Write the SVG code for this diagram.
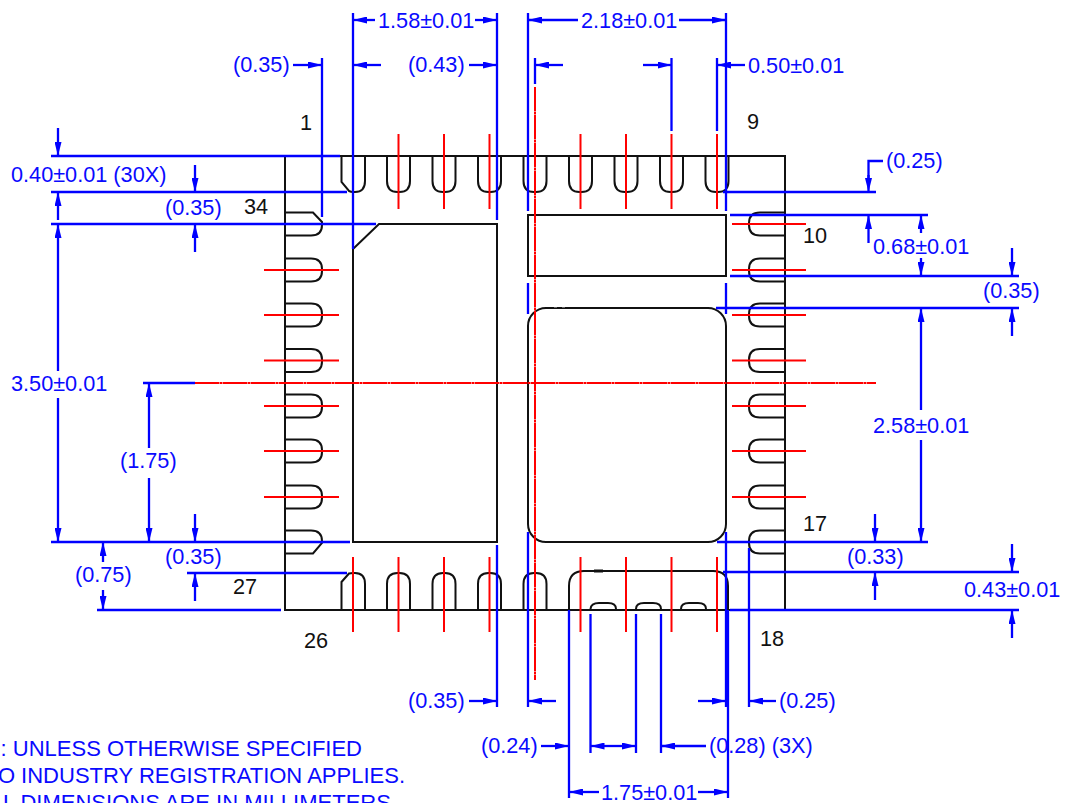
<svg xmlns="http://www.w3.org/2000/svg" xmlns:xlink="http://www.w3.org/1999/xlink" width="1068" height="803" viewBox="0 0 1068 803">
<style>
text{font-family:"Liberation Sans",Arial,sans-serif;font-size:21.7px}
.b{fill:#0a0aff}.k{fill:#111}
.o{fill:none;stroke:#111;stroke-width:2}
.l{fill:none;stroke:#0000ff;stroke-width:2.3}
.a{fill:none;stroke:#0000ff;stroke-width:2.3;marker-end:url(#ah)}
.r{fill:none;stroke:#ff0000;stroke-width:2}
.rd{fill:none;stroke:#ff0000;stroke-width:2;stroke-dasharray:24 .5 3 .5}
#notes text{font-size:22px}
</style>
<defs>
<marker id="ah" markerUnits="userSpaceOnUse" markerWidth="14" markerHeight="7" viewBox="0 0 14 7" refX="14" refY="3.5" orient="auto"><path d="M0,0L14,3.5L0,7Z" fill="#0000ff"/></marker>
<path id="pt" d="M-11.5,157V181Q-11.5,192 -1,192H1Q11.5,192 11.5,181V157" class="o"/>
<path id="pb" d="M-11.5,609V584Q-11.5,573 -1,573H1Q11.5,573 11.5,584V609" class="o"/>
<path id="pl" d="M286,-11.5H311Q322,-11.5 322,-1V1Q322,11.5 311,11.5H286" class="o"/>
<path id="pr" d="M784,-11.5H760Q749,-11.5 749,-1V1Q749,11.5 760,11.5H784" class="o"/>
</defs>
<g id="package">
<rect x="285" y="156" width="500" height="454" class="o"/>
</g>
<g id="pads-top">
<path d="M341.5,157V182L349,191Q351,192 353,192H355Q365,192 365,181V157" class="o"/>
<use xlink:href="#pt" href="#pt" x="398.500"/><use xlink:href="#pt" href="#pt" x="444"/><use xlink:href="#pt" href="#pt" x="489.500"/><use xlink:href="#pt" href="#pt" x="535"/><use xlink:href="#pt" href="#pt" x="580.500"/><use xlink:href="#pt" href="#pt" x="626"/><use xlink:href="#pt" href="#pt" x="671.500"/><use xlink:href="#pt" href="#pt" x="717"/>
</g>
<g id="pads-left">
<path d="M286,212.500H313L322,222V225Q322,235.500 311,235.500H286" class="o"/>
<use xlink:href="#pl" href="#pl" y="270"/><use xlink:href="#pl" href="#pl" y="315"/><use xlink:href="#pl" href="#pl" y="360.500"/><use xlink:href="#pl" href="#pl" y="406"/><use xlink:href="#pl" href="#pl" y="451"/><use xlink:href="#pl" href="#pl" y="497"/>
<path d="M286,530.500H311Q322,530.500 322,541V543L313,553.500H286" class="o"/>
</g>
<g id="pads-right">
<use xlink:href="#pr" href="#pr" y="224"/><use xlink:href="#pr" href="#pr" y="270"/><use xlink:href="#pr" href="#pr" y="315"/><use xlink:href="#pr" href="#pr" y="360.500"/><use xlink:href="#pr" href="#pr" y="406"/><use xlink:href="#pr" href="#pr" y="451"/><use xlink:href="#pr" href="#pr" y="497"/><use xlink:href="#pr" href="#pr" y="542"/>
</g>
<g id="pads-bottom">
<path d="M341.5,609V582L349,573.500Q351,573 353,573H355Q365,573 365,584V609" class="o"/>
<use xlink:href="#pb" href="#pb" x="398.500"/><use xlink:href="#pb" href="#pb" x="444"/><use xlink:href="#pb" href="#pb" x="489.500"/><use xlink:href="#pb" href="#pb" x="535"/>
<path d="M569,609V586Q569,571 584,571H713Q728,571 728,586V609" class="o"/>
<path d="M590.500,609Q591,603 599,603H608Q616,603 616,609M636,609Q636,603 644,603H653Q661,603 661,609M681,609Q681,603 689,603H698Q706,603 706,609" class="o"/>
<path d="M594,571H603" stroke="#111" stroke-width="3" fill="none"/>
</g>
<g id="thermal-pads">
<path d="M353,249L379,224H497V542H353Z" class="o"/>
<rect x="528" y="215" width="198" height="61" class="o"/>
<rect x="528" y="308" width="198" height="234" rx="18" ry="18" class="o"/>
<path d="M554,307.500H557M562,307.500H565" stroke="#666" stroke-width="1" fill="none"/>
</g>
<g id="centerlines">
<path class="r" d="M398.500,134V209M444,134V209M489.500,134V209M580.500,134V209M626,134V209M671.500,134V209M717,134V209"/>
<path class="r" d="M353,557V632M398.500,557V632M444,557V632M489.500,557V632M580.500,557V632M626,557V632M671.500,557V632M717,557V632"/>
<path class="r" d="M264,270H339M264,315H339M264,360.500H339M264,406H339M264,451H339M264,497H339"/>
<path class="r" d="M732,224H806M732,270H806M732,315H806M732,360.500H806M732,406H806M732,451H806M732,497H806"/>
<path class="rd" d="M195,383H876"/>
<path class="rd" d="M535,87V680"/>
</g>
<g id="connectors">
<path class="l" d="M353,13V249M497,13V220M322,58V217M528,13V211M726,13V211M528,283V314M726,283V314M528,532V707M726,532V707M535,58V84M671.500,58V131M717,58V131M569,610V798M590.500,614V753M636,614V753M661,614V753M728,610V798M749,548V707M497,545V707"/>
<path class="l" d="M51,156H340M51,192H347M51,224H376M143,383H195M51,542H350M187,573H347M97,610H281M723,192H876M730,215H928M730,276H1019M716,308H1019M717,542H928M723,572H1019M730,610H1019"/>
<path class="l" d="M883,161H868.500V180"/>
<path class="a" d="M375,20H353"/><path class="a" d="M475,20H497"/>
<path class="a" d="M578,20H528"/><path class="a" d="M679,20H726"/>
<path class="a" d="M293,65H322"/><path class="a" d="M381,65H353"/><path class="a" d="M469,65H497"/>
<path class="a" d="M563,65H535"/><path class="a" d="M643,65H671.500"/><path class="a" d="M745,65H717"/>
<path class="a" d="M469,701H497"/><path class="a" d="M556,701H528"/><path class="a" d="M698,701H726"/><path class="a" d="M776,701H749"/>
<path class="a" d="M541,746H569"/><path class="a" d="M613,746H590.500"/><path class="a" d="M613,746H636"/><path class="a" d="M706,746H661"/>
<path class="a" d="M599,792H569"/><path class="a" d="M698,792H728"/>
<path class="a" d="M58,128V156"/><path class="a" d="M58,220V192"/><path class="a" d="M58,371V224"/><path class="a" d="M58,398V542"/>
<path class="a" d="M195,165V192"/><path class="a" d="M195,252V224"/><path class="a" d="M195,514V542"/><path class="a" d="M195,601V573"/>
<path class="a" d="M149,448V383"/><path class="a" d="M149,478V542"/>
<path class="a" d="M103,562V542"/><path class="a" d="M103,590V610"/>
<path class="a" d="M868.500,175V192"/><path class="a" d="M868.500,243V215"/>
<path class="a" d="M921,233V215"/><path class="a" d="M921,258V276"/><path class="a" d="M921,410V308"/><path class="a" d="M921,440V542"/>
<path class="a" d="M1012,248V276"/><path class="a" d="M1012,336V308"/>
<path class="a" d="M875,514V542"/><path class="a" d="M875,600V572"/>
<path class="a" d="M1012,544V572"/><path class="a" d="M1012,638V610"/>
</g>
<g id="pin-labels" class="k">
<text x="300" y="130">1</text><text x="747" y="129">9</text><text x="244" y="214">34</text><text x="803" y="243">10</text><text x="803" y="531">17</text><text x="760" y="646">18</text><text x="233" y="594">27</text><text x="304" y="648">26</text>
</g>
<g id="dimension-labels" class="b">
<text x="233" y="72">(0.35)</text><text x="378" y="28">1.58±0.01</text><text x="408" y="72">(0.43)</text><text x="581" y="28">2.18±0.01</text><text x="748" y="73">0.50±0.01</text><text x="886" y="168">(0.25)</text>
<text x="11" y="182">0.40±0.01 (30X)</text><text x="165" y="215">(0.35)</text><text x="873" y="254">0.68±0.01</text><text x="983" y="298">(0.35)</text>
<text x="11" y="391">3.50±0.01</text><text x="120" y="468">(1.75)</text><text x="873" y="433">2.58±0.01</text>
<text x="165" y="564">(0.35)</text><text x="75" y="582">(0.75)</text><text x="847" y="564">(0.33)</text><text x="964" y="597">0.43±0.01</text>
<text x="408" y="708">(0.35)</text><text x="779" y="708">(0.25)</text><text x="481" y="753">(0.24)</text><text x="709" y="753">(0.28) (3X)</text><text x="601" y="800">1.75±0.01</text>
</g>
<g id="notes" class="b" text-anchor="end">
<text x="362" y="756">: UNLESS OTHERWISE SPECIFIED</text>
<text x="405" y="783">O INDUSTRY REGISTRATION APPLIES.</text>
<text x="397" y="810">L DIMENSIONS ARE IN MILLIMETERS.</text>
</g>
</svg>
